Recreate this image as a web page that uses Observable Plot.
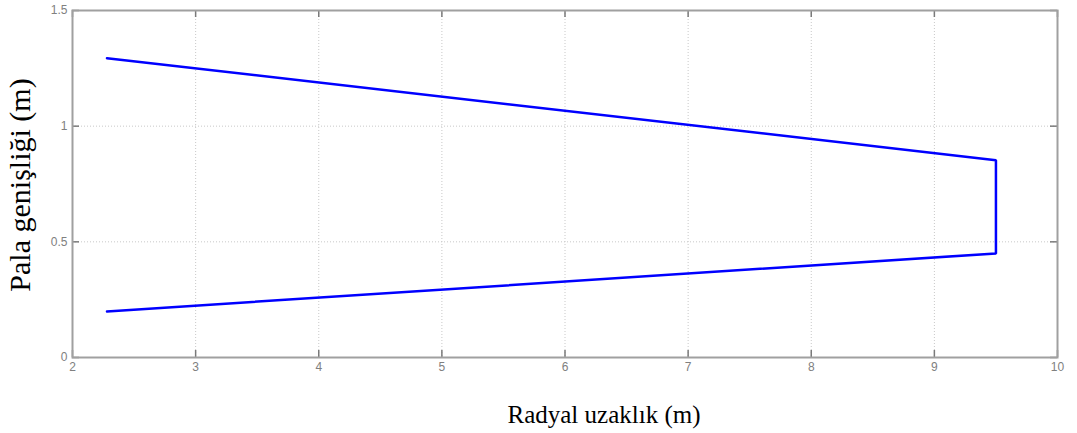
<!DOCTYPE html>
<html>
<head>
<meta charset="utf-8">
<script src="https://cdn.jsdelivr.net/npm/d3@7"></script>
<script src="https://cdn.jsdelivr.net/npm/@observablehq/plot@0.6"></script>
<style>
  html, body { margin: 0; padding: 0; background: #fff; }
  #chart svg { display: block; }
</style>
</head>
<body>
<div id="chart"></div>
<script>
const xTicks = [2, 3, 4, 5, 6, 7, 8, 9, 10];
const yTicks = [0, 0.5, 1, 1.5];
const yTickLabels = ["0", "0.5", "1", "1.5"];
const radial = [2.28, 9.5, 9.5, 2.28];
const bladeWidth = [1.294, 0.853, 0.45, 0.199];
const xLabel = "Radyal uzaklık (m)";
const yLabel = "Pala genişliği (m)";

const W = 1077, H = 433;
const mL = 72, mR = 20, mT = 10, mB = 76;
const fw = W - mL - mR, fh = H - mT - mB;

const points = radial.map((r, i) => ({r, w: bladeWidth[i]}));
const gridColor = "#c8c8c8";
const axisColor = "#a0a0a0";
const tickColor = "#7a7a7a";

const chart = Plot.plot({
  width: W, height: H,
  marginLeft: mL, marginRight: mR, marginTop: mT, marginBottom: mB,
  style: {background: "#fff", fontFamily: "'Liberation Sans', Arial, sans-serif"},
  x: {domain: [2, 10]},
  y: {domain: [0, 1.5]},
  marks: [
    Plot.ruleX(xTicks, {x: d => d, stroke: gridColor, strokeDasharray: "1,2", strokeWidth: 1}),
    Plot.ruleY(yTicks, {y: d => d, stroke: gridColor, strokeDasharray: "1,2", strokeWidth: 1}),
    Plot.tickX(xTicks, {x: d => d, insetTop: fh - 7, stroke: tickColor, strokeWidth: 1.5}),
    Plot.tickX(xTicks, {x: d => d, insetBottom: fh - 7, stroke: tickColor, strokeWidth: 1.5}),
    Plot.tickY(yTicks, {y: d => d, insetRight: fw - 7, stroke: tickColor, strokeWidth: 1.5}),
    Plot.tickY(yTicks, {y: d => d, insetLeft: fw - 7, stroke: tickColor, strokeWidth: 1.5}),
    Plot.frame({stroke: axisColor, strokeWidth: 2}),
    Plot.axisX(xTicks, {tickSize: 0, tickPadding: 5, label: null, fontSize: 12, fill: "#808080", tickFormat: d => String(d)}),
    Plot.axisY(yTicks, {tickSize: 0, tickPadding: 5, label: null, fontSize: 12, fill: "#808080", tickFormat: (d, i) => yTickLabels[i]}),
    Plot.line(points, {x: "r", y: "w", stroke: "#0000ff", strokeWidth: 2.5, strokeLinejoin: "miter"}),
    Plot.text([xLabel], {frameAnchor: "bottom", dy: 57, dx: 39, text: d => d, fontFamily: "'Liberation Serif', 'Times New Roman', serif", fontSize: 25, fill: "#000", lineAnchor: "middle", textAnchor: "middle"}),
    Plot.text([yLabel], {frameAnchor: "left", dx: -52, dy: 1, rotate: -90, text: d => d, fontFamily: "'Liberation Serif', 'Times New Roman', serif", fontSize: 30, fill: "#000", lineAnchor: "middle", textAnchor: "middle"})
  ]
});
document.getElementById("chart").appendChild(chart);
</script>
</body>
</html>
